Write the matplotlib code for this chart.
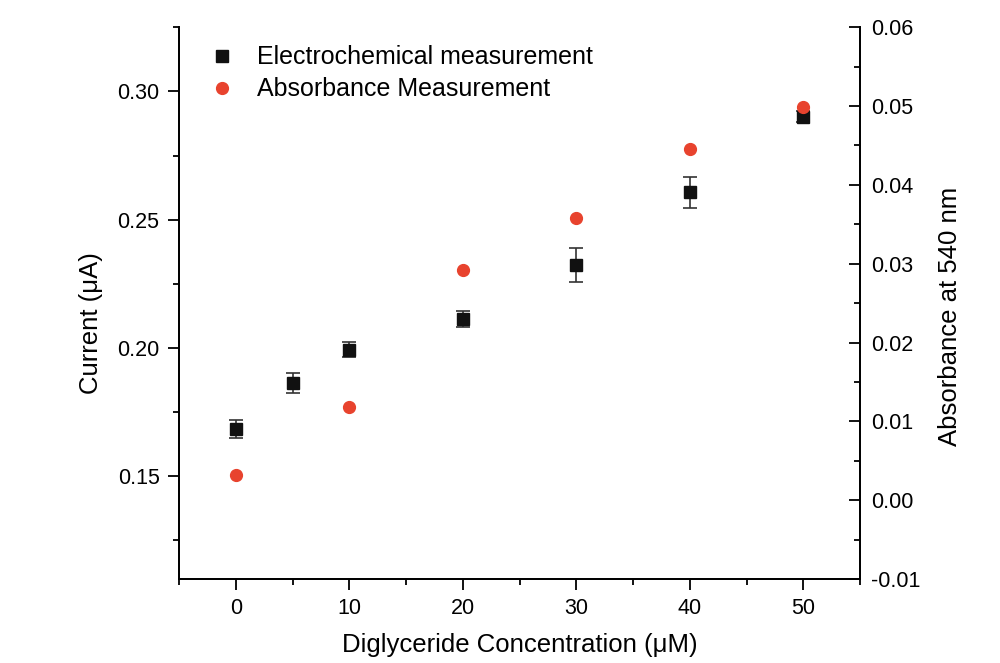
import matplotlib.pyplot as plt
import numpy as np
from matplotlib.lines import Line2D
from matplotlib.ticker import MultipleLocator

plt.rcParams["font.family"] = ["Liberation Sans", "DejaVu Sans"]

conc_echem = np.array([0, 5, 10, 20, 30, 40, 50])
current = np.array([0.1685, 0.1864, 0.1994, 0.2114, 0.2324, 0.2606, 0.2902])
current_err = np.array([0.0034, 0.0040, 0.0028, 0.0032, 0.0065, 0.0061, 0.0020])

conc_abs = np.array([0, 10, 20, 30, 40, 50])
absorbance = np.array([0.0032, 0.0118, 0.0292, 0.0358, 0.0445, 0.0499])

RED = "#e8432e"
BLACK = "#111111"


def main() -> None:
    fig = plt.figure(figsize=(10.0, 6.63), dpi=100)
    ax = fig.add_axes([0.179, 0.1267, 0.681, 0.8323])
    ax2 = ax.twinx()

    ax.errorbar(conc_echem, current, yerr=current_err, fmt="s", color=BLACK,
                ecolor="#333333", elinewidth=1.2, capsize=5, capthick=1.2,
                markersize=9, zorder=3)
    ax2.plot(conc_abs, absorbance, "o", color=RED, markersize=8.5, zorder=4)

    ax.set_xlim(-5, 55)
    ax.set_ylim(0.11, 0.325)
    ax2.set_ylim(-0.01, 0.06)

    ax.xaxis.set_major_locator(MultipleLocator(10))
    ax.xaxis.set_minor_locator(MultipleLocator(5))
    ax.yaxis.set_major_locator(MultipleLocator(0.05))
    ax.yaxis.set_minor_locator(MultipleLocator(0.025))
    ax2.yaxis.set_major_locator(MultipleLocator(0.01))
    ax2.yaxis.set_minor_locator(MultipleLocator(0.005))
    ax.yaxis.set_major_formatter(plt.FormatStrFormatter("%.2f"))
    ax2.yaxis.set_major_formatter(plt.FormatStrFormatter("%.2f"))

    for a in (ax, ax2):
        a.spines["top"].set_visible(False)
        for s in a.spines.values():
            s.set_linewidth(1.3)
    ax.tick_params(axis="both", which="major", direction="out", length=8, width=1.3,
                   labelsize=15.5, pad=6)
    ax.tick_params(axis="both", which="minor", direction="out", length=4.5, width=1.3)
    ax2.tick_params(axis="y", which="major", direction="in", length=8, width=1.3,
                    labelsize=15.5, pad=8)
    ax2.tick_params(axis="y", which="minor", direction="in", length=4.5, width=1.3)

    ax.set_xlabel("Diglyceride Concentration (\u03bcM)", fontsize=18.5, labelpad=10)
    ax.set_ylabel("Current (\u03bcA)", fontsize=18.5)
    ax2.set_ylabel("Absorbance at 540 nm", fontsize=18.5)
    ax.yaxis.set_label_coords(-0.1116, 0.464)
    ax2.yaxis.set_label_coords(1.1145, 0.4755)

    handles = [
        Line2D([], [], linestyle="none", marker="s", color=BLACK, markersize=9),
        Line2D([], [], linestyle="none", marker="o", color=RED, markersize=8.5),
    ]
    labels = ["Electrochemical measurement", "Absorbance Measurement"]
    ax2.legend(handles, labels, loc="upper left", frameon=False, fontsize=18,
               bbox_to_anchor=(0.026, 0.967), borderaxespad=0, borderpad=0,
               handletextpad=0.4, labelspacing=0.32)

    fig.savefig("out.png", dpi=100)
    plt.close(fig)


if __name__ == "__main__":
    main()
